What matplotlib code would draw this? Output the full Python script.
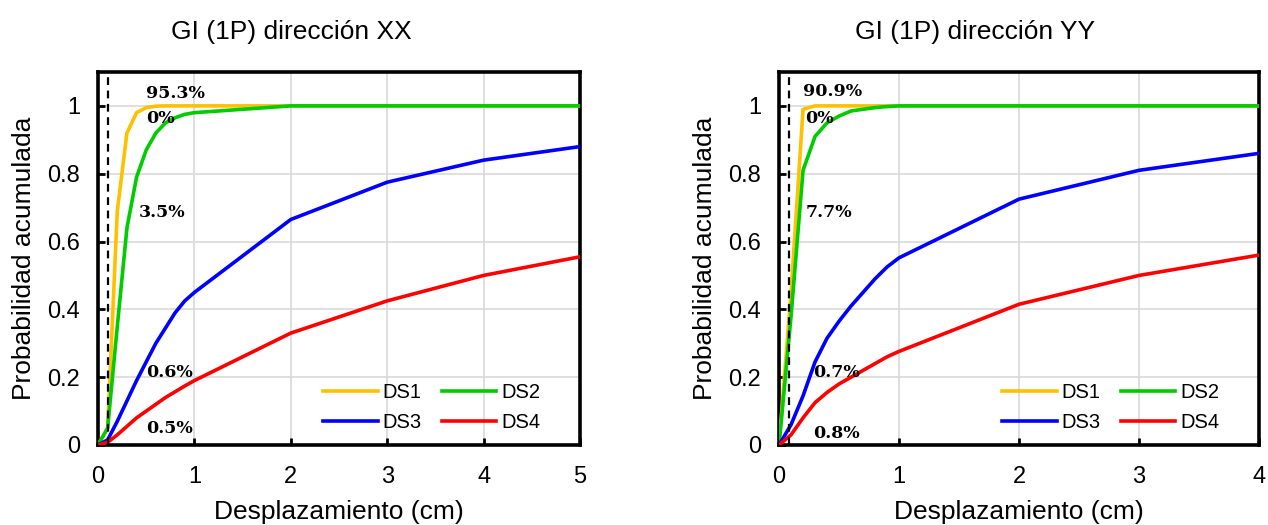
import matplotlib.pyplot as plt

# desplazamientos (cm)
x_xx = [0, 0.1, 0.2, 0.3, 0.4, 0.5, 0.6, 0.7, 0.8, 0.9, 1, 2, 3, 4, 5]
x_yy = [0, 0.1, 0.2, 0.3, 0.4, 0.5, 0.6, 0.7, 0.8, 0.9, 1, 2, 3, 4]

# dirección XX
ds1_xx = [0, 0.05, 0.69, 0.92, 0.98, 0.995, 0.999, 1, 1, 1, 1, 1, 1, 1, 1]
ds2_xx = [0, 0.05, 0.35, 0.64, 0.79, 0.87, 0.92, 0.95, 0.965, 0.975, 0.98, 1, 1, 1, 1]
ds3_xx = [0, 0.015, 0.07, 0.13, 0.19, 0.245, 0.30, 0.345, 0.39, 0.425, 0.45, 0.665, 0.775, 0.84, 0.88]
ds4_xx = [0, 0.008, 0.03, 0.055, 0.08, 0.10, 0.12, 0.14, 0.157, 0.174, 0.19, 0.33, 0.425, 0.50, 0.555]

# dirección YY
ds1_yy = [0, 0.45, 0.99, 1, 1, 1, 1, 1, 1, 1, 1, 1, 1, 1]
ds2_yy = [0, 0.38, 0.81, 0.91, 0.95, 0.97, 0.985, 0.99, 0.995, 0.998, 1, 1, 1, 1]
ds3_yy = [0, 0.06, 0.145, 0.245, 0.315, 0.365, 0.41, 0.45, 0.49, 0.525, 0.552, 0.725, 0.81, 0.86]
ds4_yy = [0, 0.03, 0.08, 0.125, 0.155, 0.18, 0.20, 0.22, 0.24, 0.26, 0.276, 0.415, 0.50, 0.56]

labels_xx = ["95.3%", "0%", "3.5%", "0.6%", "0.5%"]
labels_yy = ["90.9%", "0%", "7.7%", "0.7%", "0.8%"]

colors = ['#FFC000', '#00CC00', '#0000FF', '#FF0000']
names = ['DS1', 'DS2', 'DS3', 'DS4']

plt.rcParams['font.family'] = ['Liberation Sans', 'DejaVu Sans']

fig = plt.figure(figsize=(12.68, 5.25), dpi=100)
ax1 = fig.add_axes([0.0773, 0.1524, 0.3801, 0.7105])
ax2 = fig.add_axes([0.6144, 0.1524, 0.3785, 0.7105])


def draw(ax, x, series, xmax, xdash, labels, label_pos):
    lines = []
    for ys, c, n in zip(series, colors, names):
        l, = ax.plot(x, ys, color=c, lw=2.6, label=n, zorder=3)
        lines.append(l)
    ax.axvline(xdash, color='black', ls=(0, (3.5, 2.5)), lw=1.6, zorder=4)
    ax.set_xlim(0, xmax)
    ax.set_ylim(0, 1.1)
    ax.set_xticks(range(0, xmax + 1))
    ax.set_yticks([0, 0.2, 0.4, 0.6, 0.8, 1])
    ax.set_yticklabels(['0', '0.2', '0.4', '0.6', '0.8', '1'])
    ax.grid(True, color='#d9d9d9', lw=1.2, zorder=0)
    for s in ax.spines.values():
        s.set_linewidth(2.6)
    ax.tick_params(direction='in', length=5, width=2, labelsize=17, pad=13)
    ax.tick_params(axis='x', pad=15)
    ax.set_xlabel('Desplazamiento (cm)', fontsize=19, labelpad=9)
    ax.set_ylabel('Probabilidad acumulada', fontsize=19, labelpad=8)
    for t, (px, py) in zip(labels, label_pos):
        ax.text(px, py, t, fontsize=12.5, fontweight='bold', family='DejaVu Serif',
                va='center', ha='left', zorder=5)
    # orden por filas: DS1 DS2 / DS3 DS4
    order = [0, 2, 1, 3]
    ax.legend([lines[i] for i in order], [names[i] for i in order],
              ncol=2, frameon=False, fontsize=14.5, handlelength=2.7,
              columnspacing=1.0, handletextpad=0.25, labelspacing=0.55,
              borderpad=0, borderaxespad=0,
              loc='lower right', bbox_to_anchor=(0.918, 0.035))


draw(ax1, x_xx, [ds1_xx, ds2_xx, ds3_xx, ds4_xx], 5, 0.1, labels_xx,
     [(0.5, 1.037), (0.5, 0.963), (0.42, 0.685), (0.5, 0.215), (0.5, 0.048)])
draw(ax2, x_yy, [ds1_yy, ds2_yy, ds3_yy, ds4_yy], 4, 0.08, labels_yy,
     [(0.2, 1.043), (0.22, 0.963), (0.22, 0.685), (0.28, 0.215), (0.28, 0.035)])

fig.text(0.230, 0.940, 'GI (1P) dirección XX', fontsize=19, ha='center', va='center')
fig.text(0.769, 0.940, 'GI (1P) dirección YY', fontsize=19, ha='center', va='center')

fig.savefig('out.png', dpi=100)
